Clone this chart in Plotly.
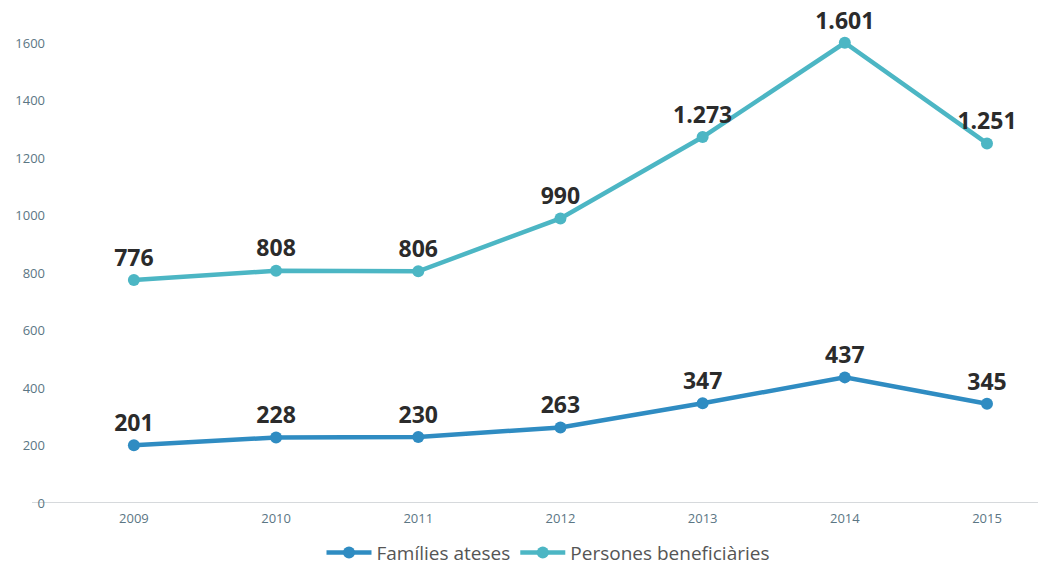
import plotly.graph_objects as go

years = ["2009", "2010", "2011", "2012", "2013", "2014", "2015"]
families = [201, 228, 230, 263, 347, 437, 345]
persones = [776, 808, 806, 990, 1273, 1601, 1251]
y_ticks = [0, 200, 400, 600, 800, 1000, 1200, 1400, 1600]

label_font = dict(family="Open Sans", size=23, color="#2b2b2b", weight="bold")

fig = go.Figure()
fig.add_trace(go.Scatter(
    x=years, y=families, name="Famílies ateses",
    mode="lines+markers+text",
    line=dict(color="#2f8cc2", width=4.5),
    marker=dict(size=12, color="#2f8cc2"),
    texttemplate="%{y:,}", textposition="top center",
    textfont=label_font, cliponaxis=False,
))
fig.add_trace(go.Scatter(
    x=years, y=persones, name="Persones beneficiàries",
    mode="lines+markers+text",
    line=dict(color="#4cb6c4", width=4.5),
    marker=dict(size=12, color="#4cb6c4"),
    texttemplate="%{y:,}", textposition="top center",
    textfont=label_font, cliponaxis=False,
))

# baseline reaching a bit left of the plot area, as in the original
fig.add_shape(type="line", xref="paper", yref="y", x0=-18 / 996, x1=1, y0=0, y1=0,
              line=dict(color="#c8cdd0", width=1.5), layer="below")

fig.update_layout(
    width=1046, height=569,
    margin=dict(l=42, r=8, t=0, b=74),
    plot_bgcolor="white", paper_bgcolor="white",
    separators=",.",
    font=dict(family="Open Sans", color="#5b7684"),
    legend=dict(orientation="h", x=0.5, xanchor="center", y=-0.062, yanchor="top",
                itemwidth=45, font=dict(size=19, color="#555555")),
    xaxis=dict(type="category", range=[-0.59, 6.415], showgrid=False,
               showline=False, zeroline=False, ticks="", automargin=False,
               ticklabelstandoff=6, tickfont=dict(size=13, color="#5b7684")),
    yaxis=dict(range=[0, 1722], tickvals=y_ticks, showgrid=False,
               zeroline=False, showline=False, ticks="", automargin=False,
               ticklabelstandoff=4, tickfont=dict(size=13, color="#5b7684")),
)

fig.write_html("out.html")
